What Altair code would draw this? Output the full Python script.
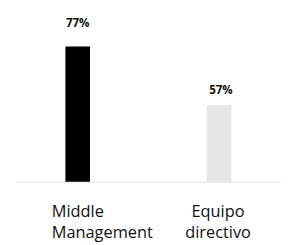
import altair as alt
import pandas as pd

categories = ["Middle Management", "Equipo directivo"]
values = [77, 57]
labels = ["77%", "57%"]
colors = ["#000000", "#e6e6e6"]

df = pd.DataFrame({"cat": categories, "val": values, "lab": labels, "col": colors})

first = f"datum.value == '{categories[0]}'"

x = alt.X("cat:N", sort=categories, title=None,
          scale=alt.Scale(paddingInner=0.826, paddingOuter=0.352),
          axis=alt.Axis(labelAngle=0, labelExpr="split(datum.label, ' ')",
                        labelFont="Open Sans", labelFontSize=17, labelColor="#111111",
                        labelLineHeight=22, labelPadding=23, ticks=False,
                        labelAlign=alt.ExprRef(expr=f"{first} ? 'left' : 'center'"),
                        labelOffset=alt.ExprRef(expr=f"{first} ? -27 : -1"),
                        domainColor="#e3e3e3", domainWidth=1, labelBaseline="top"))
y = alt.Y("val:Q", title=None, scale=alt.Scale(domain=[31, 81], nice=False, zero=False),
          axis=None)

base = alt.Chart(df)
bars = base.mark_bar(clip=True).encode(x=x, y=y, color=alt.Color("col:N", scale=None))
t1 = base.transform_filter(alt.datum.cat == categories[0]).mark_text(
    font="Open Sans", fontWeight="bold", fontSize=12, baseline="middle", dy=-24, color="#111111"
).encode(x=x, y=y, text="lab:N")
t2 = base.transform_filter(alt.datum.cat == categories[1]).mark_text(
    font="Open Sans", fontWeight="bold", fontSize=12, baseline="middle", dy=-16, dx=2, color="#111111"
).encode(x=x, y=y, text="lab:N")

chart = alt.layer(bars, t1, t2).properties(
    width=276, height=153,
    autosize=alt.AutoSizeParams(type="none"),
    padding={"left": 8, "top": 23, "right": 0, "bottom": 62},
).configure(background="white").configure_view(strokeWidth=0)

chart.save("out.html", embed_options={"renderer": "svg", "actions": False})
